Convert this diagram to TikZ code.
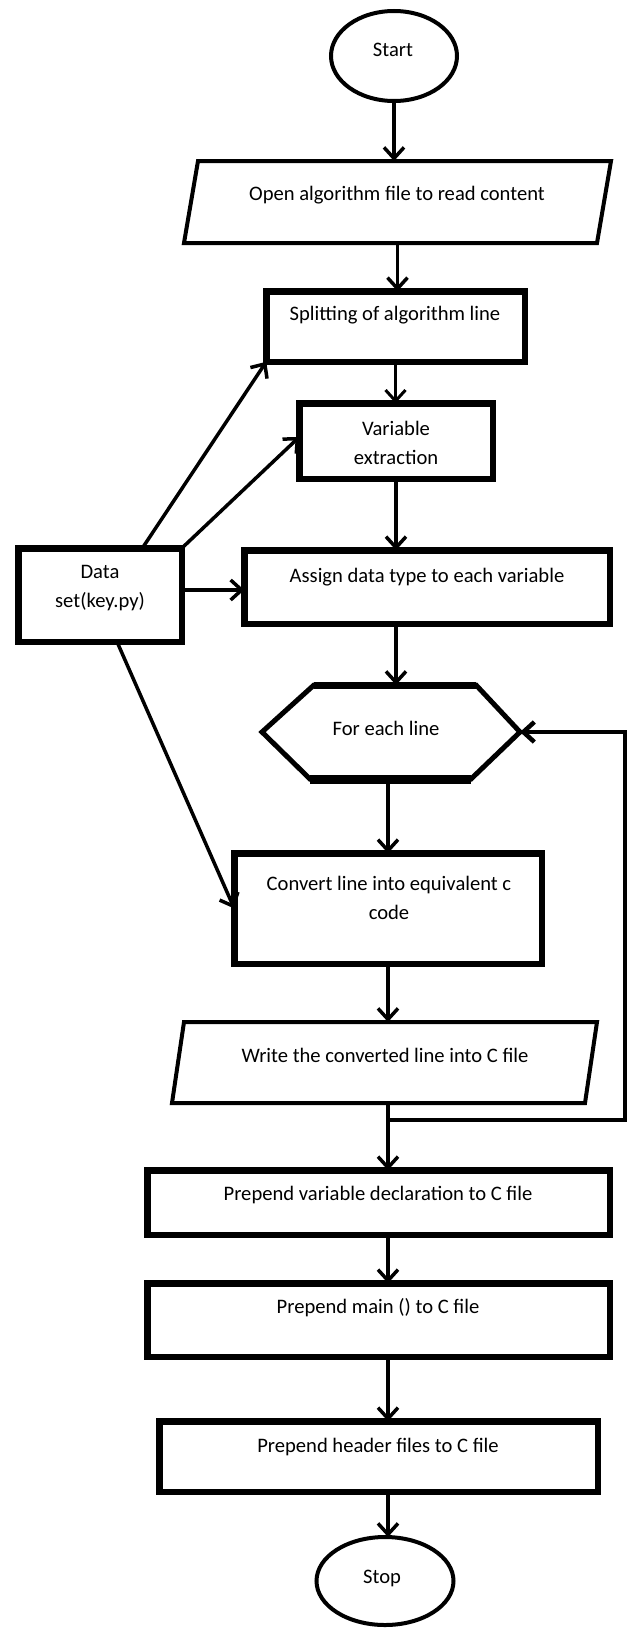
\documentclass[tikz,border=0pt]{standalone}
\usepackage{fontspec}
\setmainfont{Carlito}
\usetikzlibrary{arrows.meta,shapes.geometric,calc}
\begin{document}
\begin{tikzpicture}[x=1pt,y=-1pt,
  every node/.style={font=\fontsize{20.6}{29}\selectfont, outer sep=0pt, inner sep=0pt},
  arr/.style={line width=3.5pt, -{Straight Barb[length=11pt,width=20pt]}},
  box/.style={draw, rectangle, line width=6.5pt},
  term/.style={draw, ellipse, line width=4pt},
  ghost/.style={rectangle, draw=none},
  io/.style={line width=4pt, line join=miter},
  lbl/.style={align=center}
]
\useasboundingbox (0,0) rectangle (632,1630);

% terminals
\node[term, minimum width=126, minimum height=90] (start) at (394,56) {};
\node[lbl] (tstart) at (393,50) {Start};
\node[term, minimum width=137, minimum height=88] (stop) at (385,1581) {};
\node[lbl] (tstop) at (382,1578) {Stop};

% input/output parallelograms
\node[ghost, minimum width=400, minimum height=82] (open) at (397.5,202) {};
\draw[io] (198,161) -- (611,161) -- (597,243) -- (184,243) -- cycle;
\node[lbl] (topen) at (397,195) {Open algorithm file to read content};

\node[ghost, minimum width=400, minimum height=81] (write) at (385,1062.5) {};
\draw[io] (184,1022) -- (597,1022) -- (585,1103) -- (172,1103) -- cycle;
\node[lbl] (twrite) at (385,1055) {Write the converted line into C file};

% process boxes
\node[box, minimum width=258.5, minimum height=70.5] (split) at (395.5,326.5) {};
\node[lbl] (tsplit) at (395,315) {Splitting of algorithm line};

\node[box, minimum width=193.5, minimum height=75.5] (var) at (396,441) {};
\node[lbl] (tvar) at (396,443) {Variable\\extraction};

\node[box, minimum width=365.5, minimum height=73.5] (assign) at (427,587) {};
\node[lbl] (tassign) at (427,577) {Assign data type to each variable};

\node[box, minimum width=163.5, minimum height=93.5] (data) at (100,595) {};
\node[lbl] (tdata) at (100,588) {Data\\set(key.py)};

\node[box, minimum width=307.5, minimum height=110.5] (convert) at (388,908.5) {};
\node[lbl] (tconvert) at (389,897.5) {Convert line into equivalent c\\code};

\node[box, minimum width=462.5, minimum height=64.5] (prepvar) at (378.5,1202.5) {};
\node[lbl] (tprepvar) at (378,1195) {Prepend variable declaration to C file};

\node[box, minimum width=462.5, minimum height=73.5] (prepmain) at (378.5,1320) {};
\node[lbl] (tprepmain) at (378,1308) {Prepend main () to C file};

\node[box, minimum width=438.5, minimum height=70.5] (header) at (378.5,1456.5) {};
\node[lbl] (theader) at (378,1447) {Prepend header files to C file};

% hexagon (loop)
\node[ghost, minimum width=258, minimum height=94] (hex) at (391,732) {};
\draw[line width=5pt, line join=miter] (314,685) -- (476,685) -- (520,732) -- (471,779) -- (310,779) -- (262,732) -- cycle;
\draw[line width=7pt] (314,685) -- (476,685);
\draw[line width=9pt] (310,779) -- (471,779);
\node[lbl] (thex) at (386,728) {For each line};

% main flow
\draw[arr] (start.south) -- (start.south |- open.north);
\draw[arr] (open.south) -- (open.south |- split.north);
\draw[arr, line width=3pt] (split.south) -- (split.south |- var.north);
\draw[arr] (var.south) -- (var.south |- assign.north);
\draw[arr] (var.south |- assign.south) -- (var.south |- hex.north);
\draw[arr] (convert.north |- hex.south) -- (convert.north);
\draw[arr] (convert.south) -- (convert.south |- write.north);
\coordinate (jy) at (0,1120);
\coordinate (j) at (convert.south |- jy);
\draw[arr] (convert.south |- write.south) -- (convert.south |- prepvar.north);
\draw[arr] (convert.south |- prepvar.south) -- (convert.south |- prepmain.north);
\draw[arr] (convert.south |- prepmain.south) -- (convert.south |- header.north);
\draw[arr] (convert.south |- header.south) -- (convert.south |- stop.north);

% loop back
\draw[arr, line width=4.5pt, line join=miter] (j) -| ([xshift=105pt]hex.east) -- (hex.east);

% data set connectors
\draw[arr] ([xshift=124pt]data.north west) -- (split.south west);
\draw[arr] (data.north east) -- ([yshift=4pt]var.west);
\draw[arr] ([yshift=5pt]data.east) -- ([yshift=5pt]data.east -| assign.west);
\draw[arr] ([xshift=17pt]data.south) -- (convert.west);
\end{tikzpicture}
\end{document}
